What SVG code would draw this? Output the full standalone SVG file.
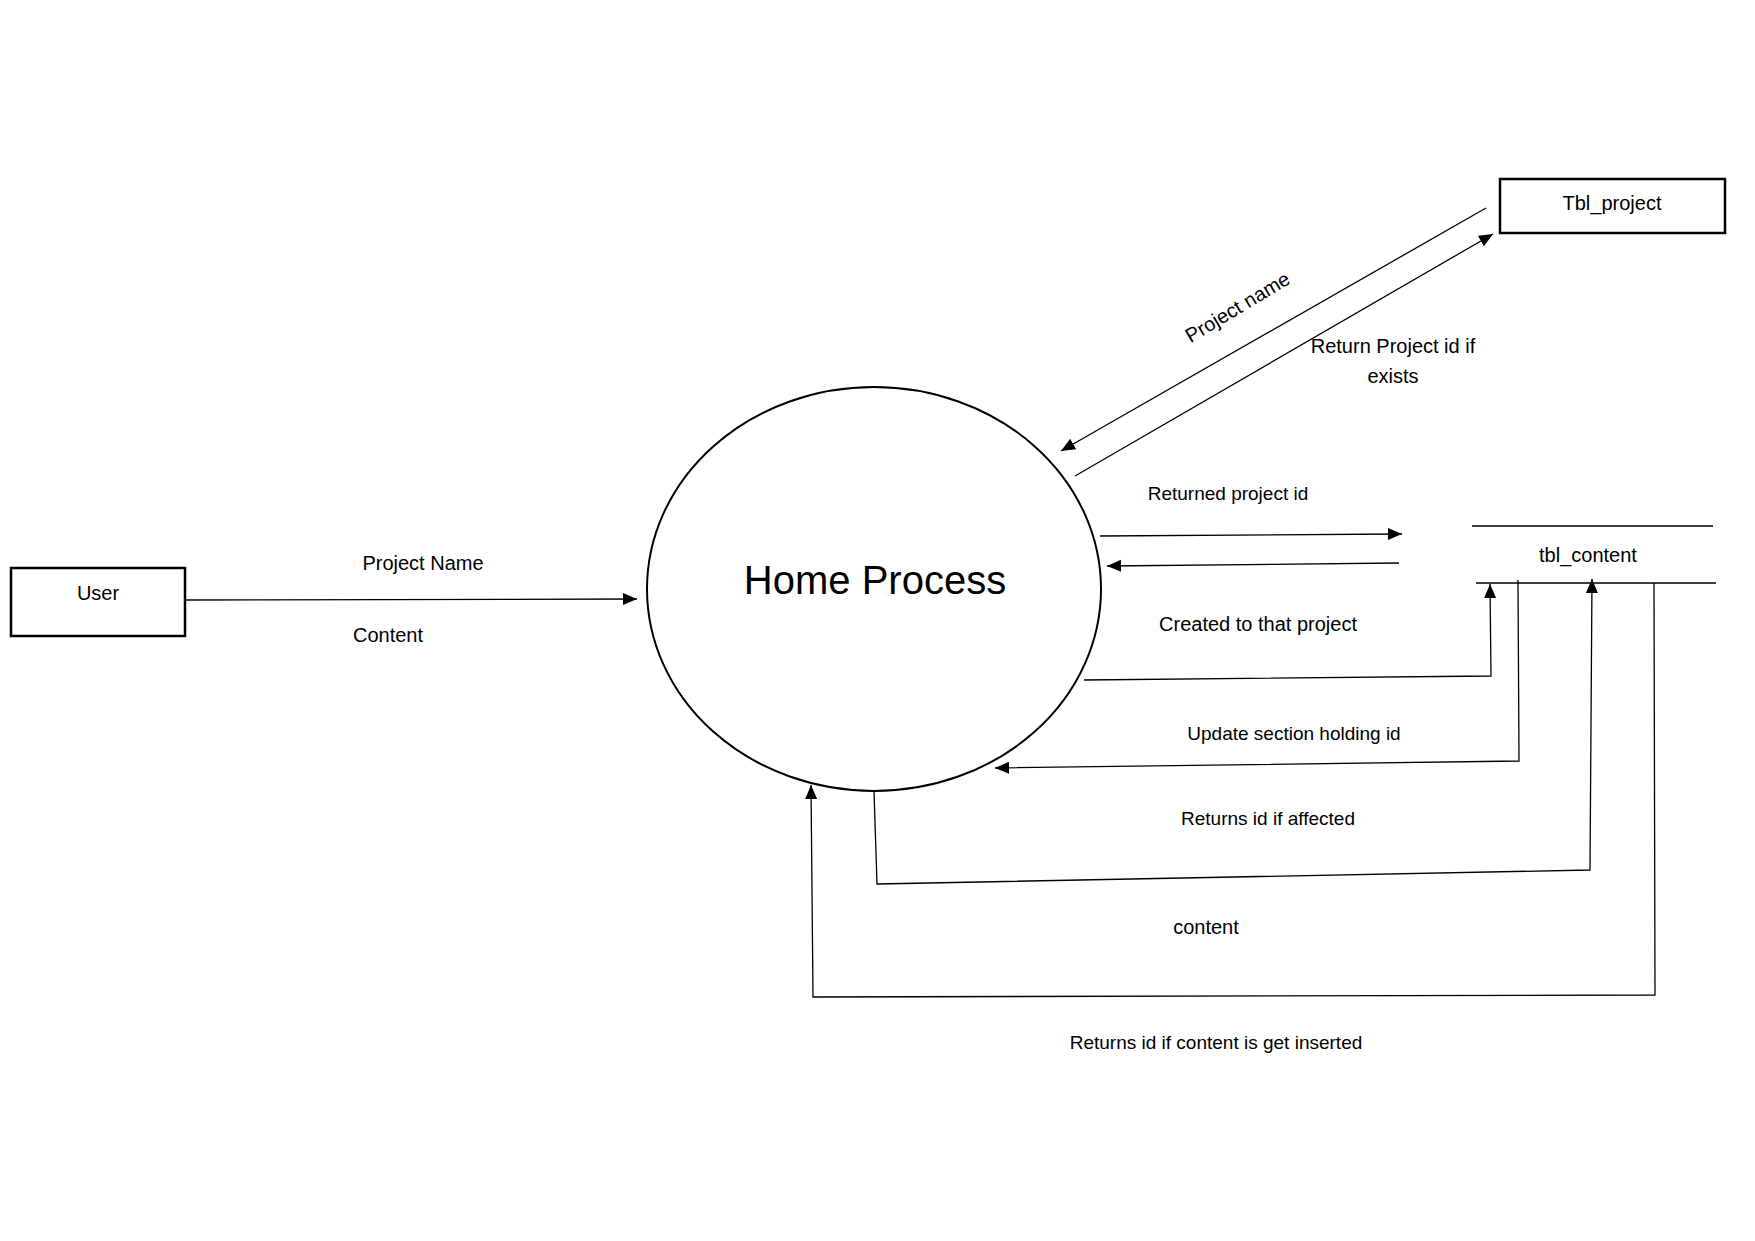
<svg xmlns="http://www.w3.org/2000/svg" width="1755" height="1241" viewBox="0 0 1755 1241">
<style>
  text { font-family: "Liberation Sans", Arial, sans-serif; fill: #000; text-anchor: middle; }
  .lbl { font-size: 20px; }
  .sm { font-size: 19px; }
  .box { fill: #fff; stroke: #000; stroke-width: 2.5; }
  .ln { fill: none; stroke: #000; stroke-width: 1.3; }
  .arr { marker-end: url(#ah); }
</style>
<defs>
  <marker id="ah" markerUnits="userSpaceOnUse" markerWidth="16" markerHeight="14" refX="14" refY="6" orient="auto">
    <path d="M0,0 L14,6 L0,12 Z" fill="#000"/>
  </marker>
</defs>
<rect width="1755" height="1241" fill="#fff"/>

<g id="user">
  <rect class="box" x="11" y="568" width="174" height="68"/>
  <text class="lbl" x="98" y="600">User</text>
</g>

<g id="home-process">
  <ellipse cx="874" cy="589" rx="227" ry="202" fill="#fff" stroke="#000" stroke-width="2"/>
  <text x="875" y="594" style="font-size:40px">Home Process</text>
</g>

<g id="tbl-project">
  <rect class="box" x="1500" y="179" width="225" height="54"/>
  <text class="lbl" x="1612" y="210">Tbl_project</text>
</g>

<g id="tbl-content">
  <line class="ln" x1="1472" y1="526" x2="1713" y2="526"/>
  <line class="ln" x1="1476" y1="583" x2="1716" y2="583"/>
  <text class="lbl" x="1588" y="562">tbl_content</text>
</g>

<g id="connectors">
  <line class="ln arr" x1="186" y1="600" x2="637" y2="599"/>
  <line class="ln arr" x1="1486" y1="208" x2="1061" y2="451"/>
  <line class="ln arr" x1="1075" y1="476" x2="1493" y2="234"/>
  <line class="ln arr" x1="1100" y1="536" x2="1402" y2="534"/>
  <line class="ln arr" x1="1399" y1="563" x2="1107" y2="566"/>
  <polyline class="ln arr" points="1084,680 1491,676 1490,584"/>
  <polyline class="ln arr" points="1518,580 1519,761 995,768"/>
  <polyline class="ln arr" points="874,791 877,884 1590,870 1592,579"/>
  <polyline class="ln arr" points="1654,583 1655,995 813,997 811,785"/>
</g>

<g id="labels">
  <text class="lbl" x="423" y="570">Project Name</text>
  <text class="lbl" x="388" y="642">Content</text>
  <text class="lbl" transform="translate(1241,313) rotate(-31)">Project name</text>
  <text class="lbl" x="1393" y="353">Return Project id if</text>
  <text class="lbl" x="1393" y="383">exists</text>
  <text class="sm" x="1228" y="500">Returned project id</text>
  <text class="lbl" x="1258" y="631">Created to that project</text>
  <text class="sm" x="1294" y="740">Update section holding id</text>
  <text class="sm" x="1268" y="825">Returns id if affected</text>
  <text class="lbl" x="1206" y="934">content</text>
  <text class="sm" x="1216" y="1049">Returns id if content is get inserted</text>
</g>
</svg>
